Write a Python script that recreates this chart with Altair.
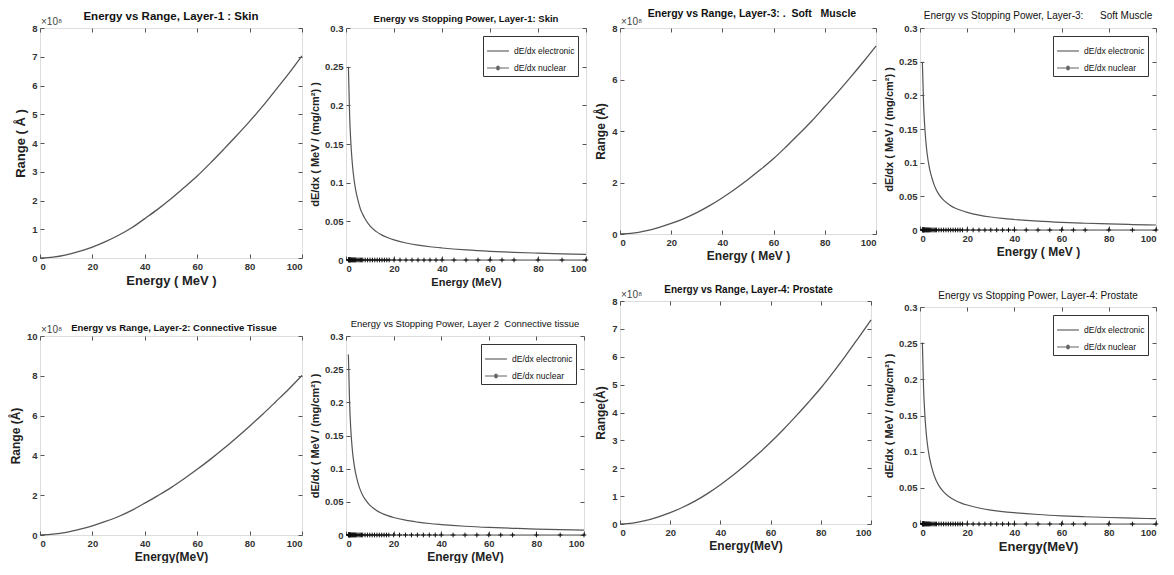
import altair as alt
import pandas as pd

# ---------------- data ----------------
E_RANGE = [0, 5, 10, 15, 20, 25, 30, 35, 40, 45, 50, 55, 60, 65, 70, 75, 80, 85, 90, 95, 100]
R_SKIN = [0, 0.03e8, 0.11e8, 0.23e8, 0.38e8, 0.57e8, 0.79e8, 1.05e8, 1.37e8, 1.70e8, 2.06e8,
          2.45e8, 2.85e8, 3.30e8, 3.77e8, 4.25e8, 4.75e8, 5.28e8, 5.85e8, 6.42e8, 7.03e8]
R_CONN = [0, 0.04e8, 0.13e8, 0.28e8, 0.46e8, 0.68e8, 0.93e8, 1.24e8, 1.60e8, 1.98e8, 2.38e8,
          2.83e8, 3.30e8, 3.80e8, 4.33e8, 4.89e8, 5.47e8, 6.07e8, 6.70e8, 7.34e8, 8.02e8]
R_MUSC = [0, 0.03e8, 0.12e8, 0.25e8, 0.41e8, 0.60e8, 0.83e8, 1.10e8, 1.41e8, 1.75e8, 2.12e8,
          2.51e8, 2.93e8, 3.40e8, 3.89e8, 4.40e8, 4.95e8, 5.50e8, 6.08e8, 6.68e8, 7.30e8]
R_PROS = [0, 0.03e8, 0.12e8, 0.25e8, 0.41e8, 0.60e8, 0.83e8, 1.10e8, 1.41e8, 1.75e8, 2.12e8,
          2.51e8, 2.93e8, 3.38e8, 3.86e8, 4.36e8, 4.88e8, 5.45e8, 6.05e8, 6.68e8, 7.32e8]

E_EL = [1, 1.5, 2, 2.5, 3, 4, 5, 6, 7, 8, 10, 12.5, 15, 17.5, 20, 25, 30, 35, 40, 50, 60, 70, 80, 90, 100]
S_SKIN = [0.250, 0.188, 0.153, 0.130, 0.113, 0.091, 0.077, 0.066, 0.059, 0.053, 0.0440, 0.0370, 0.0322,
          0.0287, 0.0260, 0.0220, 0.0192, 0.0171, 0.0155, 0.0130, 0.0112, 0.0099, 0.0089, 0.0080, 0.0072]
S_CONN = [0.272, 0.200, 0.160, 0.135, 0.117, 0.094, 0.079, 0.068, 0.060, 0.054, 0.0450, 0.0378, 0.0328,
          0.0292, 0.0264, 0.0223, 0.0195, 0.0173, 0.0157, 0.0132, 0.0114, 0.0101, 0.0090, 0.0082, 0.0074]
S_MUSC = [0.250, 0.189, 0.154, 0.131, 0.114, 0.092, 0.078, 0.067, 0.059, 0.053, 0.0443, 0.0373, 0.0324,
          0.0289, 0.0262, 0.0221, 0.0193, 0.0172, 0.0156, 0.0131, 0.0113, 0.0100, 0.0090, 0.0081, 0.0074]
S_PROS = [0.251, 0.189, 0.154, 0.131, 0.114, 0.092, 0.078, 0.067, 0.059, 0.053, 0.0443, 0.0373, 0.0324,
          0.0289, 0.0262, 0.0221, 0.0193, 0.0172, 0.0156, 0.0131, 0.0113, 0.0100, 0.0090, 0.0081, 0.0073]

E_NUC = [1.0, 1.1, 1.2, 1.3, 1.4, 1.5, 1.6, 1.7, 1.8, 2.0, 2.25, 2.5, 2.75, 3.0, 3.25, 3.5, 3.75, 4.0,
         4.5, 5.0, 5.5, 6.0, 6.5, 7.0, 8.0, 9.0, 10, 11, 12, 13, 14, 15, 16, 17, 18, 20, 22.5, 25,
         27.5, 30, 32.5, 35, 37.5, 40, 45, 50, 55, 60, 65, 70, 80, 90, 100]
S_NUC = [0.00019, 0.00018, 0.00017, 0.00016, 0.00015, 0.00014, 0.00013, 0.00013, 0.00012, 0.00011,
         0.00010, 0.00009, 0.00008, 0.00008, 0.00007, 0.00007, 0.00006, 0.00006, 0.00005, 0.00005,
         0.00004, 0.00004, 0.00004, 0.00003, 0.00003, 0.00003, 0.00002, 0.00002, 0.00002, 0.00002,
         0.00002, 0.00002, 0.00002, 0.00002, 0.00002, 0.00001, 0.00001, 0.00001, 0.00001, 0.00001,
         0.00001, 0.00001, 0.00001, 0.00001, 0.00001, 0.000008, 0.000008, 0.000007, 0.000006,
         0.000006, 0.000005, 0.000004, 0.000003]

X_TICKS = [0, 20, 40, 60, 80, 100]
S_TICKS = [0, 0.05, 0.1, 0.15, 0.2, 0.25, 0.3]
SERIES = ["dE/dx electronic", "dE/dx nuclear"]

FONT = "Liberation Sans, Arial"
INK = "#333333"
LINE = "#555555"
NB = "\u00a0"
PLUS = "M0,-1L0,1M-1,0L1,0"
LEG_NUC = "M-1,0L1,0M0,-0.22L0,0.22M-0.14,-0.14L0.14,0.14M-0.14,0.14L0.14,-0.14"


def in_axis(orient, values, title=None, labels=True, title_size=12, label_expr=None, fmt=None):
    kw = dict(orient=orient, values=values, domain=False, grid=False, tickSize=4, offset=-4,
              tickColor="#555555", tickWidth=1, labels=labels, labelFont=FONT, labelFontSize=9.5,
              labelColor=INK, labelFontWeight="bold", labelPadding=3)
    if title is not None:
        kw.update(title=title, titleFont=FONT, titleFontSize=title_size, titleFontWeight="bold",
                  titleColor="#222222", titlePadding=4)
    else:
        kw.update(title=None)
    if label_expr is not None:
        kw.update(labelExpr=label_expr)
    if fmt is not None:
        kw.update(format=fmt)
    return alt.Axis(**kw)


def panel_title(text, size, weight, offset, dx=0):
    return alt.TitleParams(text=text, font=FONT, fontSize=size, fontWeight=weight, color="#111111",
                           offset=offset, frame="group", anchor="middle", dx=dx)


def range_panel(title, tsize, tweight, toff, R, ymax, ystep, ytitle, xtitle, atsize, w, h, tdx=0):
    df = pd.DataFrame({"E": E_RANGE, "R": R})
    yt = [i * ystep * 1e8 for i in range(int(round(ymax / ystep)) + 1)]
    xs = alt.Scale(domain=[0, 100], nice=False)
    ys = alt.Scale(domain=[0, ymax * 1e8], nice=False)
    line = alt.Chart(df).mark_line(color=LINE, strokeWidth=1.3, interpolate="monotone").encode(
        x=alt.X("E:Q", scale=xs, axis=in_axis("bottom", X_TICKS, xtitle, title_size=atsize)),
        y=alt.Y("R:Q", scale=ys, axis=in_axis("left", yt, ytitle, title_size=atsize,
                                               label_expr="format(datum.value / 1e8, 'd')")),
    )
    frame = alt.Chart(df).mark_line(opacity=0).encode(
        x=alt.X("E:Q", scale=xs, axis=in_axis("top", X_TICKS, labels=False)),
        y=alt.Y("R:Q", scale=ys, axis=in_axis("right", yt, labels=False)),
    )
    exp_df = pd.DataFrame({"E": [0], "R": [ymax * 1e8], "t": ["×10⁸"]})
    exp = alt.Chart(exp_df).mark_text(align="left", baseline="bottom", dx=1, dy=-1, font=FONT,
                                      fontSize=10, color="#444444").encode(
        x=alt.X("E:Q", scale=xs, axis=None), y=alt.Y("R:Q", scale=ys, axis=None), text="t:N")
    return alt.layer(line, frame, exp).resolve_axis(x="independent", y="independent").properties(
        width=w, height=h, title=panel_title(title, tsize, tweight, toff, tdx))


def stop_panel(title, tsize, tweight, toff, S, xtitle, atsize, w, h):
    el = pd.DataFrame({"E": E_EL, "S": S, "series": SERIES[0]})
    nu = pd.DataFrame({"E": E_NUC, "S": S_NUC, "series": SERIES[1]})
    df = pd.concat([el, nu])
    xs = alt.Scale(domain=[0, 100], nice=False)
    ys = alt.Scale(domain=[0, 0.3], nice=False)
    legend = alt.Legend(
        title=None, orient="top-right", offset=8, symbolSize=480, symbolStrokeWidth=1.2,
        symbolStrokeColor="#222222", symbolFillColor="transparent",
        labelFont=FONT, labelFontSize=8.5, labelColor="#111111",
        strokeColor="#333333", fillColor="white", padding=3, rowPadding=0, labelOffset=4,
    )
    line = alt.Chart(df).mark_line(strokeWidth=1.2, color=LINE, interpolate="monotone").encode(
        x=alt.X("E:Q", scale=xs, axis=in_axis("bottom", X_TICKS, xtitle, title_size=atsize)),
        y=alt.Y("S:Q", scale=ys, axis=in_axis("left", S_TICKS, "dE/dx ( MeV / (mg/cm²) )",
                                               title_size=11, fmt="~g")),
        detail="series:N",
    )
    marks = alt.Chart(nu).mark_point(shape=PLUS, size=22, filled=False, color="#111111",
                                     strokeWidth=1, opacity=1).encode(
        x=alt.X("E:Q", scale=xs, axis=in_axis("top", X_TICKS, labels=False)),
        y=alt.Y("S:Q", scale=ys, axis=in_axis("right", S_TICKS, labels=False)),
    )
    leg = alt.Chart(df).transform_filter("false").mark_point(filled=False, color="#222222").encode(
        x=alt.X("E:Q", scale=xs, axis=None),
        y=alt.Y("S:Q", scale=ys, axis=None),
        shape=alt.Shape("series:N", scale=alt.Scale(domain=SERIES, range=["stroke", LEG_NUC]),
                        legend=legend),
    )
    return alt.layer(line, marks, leg).resolve_axis(x="independent", y="independent").properties(
        width=w, height=h, title=panel_title(title, tsize, tweight, toff))


p1 = range_panel("Energy vs Range, Layer-1 : Skin", 11.5, "bold", -5.75, R_SKIN, 8, 1,
                 "Range ( Å )", "Energy ( MeV )", 13, 262, 230)
p5 = range_panel("Energy vs Range, Layer-2: Connective Tissue", 9.5, 600, -7.75, R_CONN, 10, 2,
                 "Range (Å)", "Energy(MeV)", 12, 262, 199, tdx=3)
p3 = range_panel("Energy vs Range, Layer-3: ." + NB * 2 + "Soft" + NB * 3 + "Muscle", 10.5, "bold", -2.25,
                 R_MUSC, 8, 2, "Range (Å)", "Energy ( MeV )", 12, 256, 206, tdx=4)
p7 = range_panel("Energy vs Range, Layer-4: Prostate", 10, 600, -5, R_PROS, 8, 1,
                 "Range(Å)", "Energy(MeV)", 12, 251, 223, tdx=3)

p2 = stop_panel("Energy vs Stopping Power, Layer-1: Skin", 9.5, "bold", -0.75, S_SKIN,
                "Energy (MeV)", 11, 240, 232)
p6 = stop_panel("Energy vs Stopping Power, Layer 2" + NB * 2 + "Connective tissue", 9.5, "normal", 2.25,
                S_CONN, "Energy (MeV)", 12, 238, 199)
p4 = stop_panel("Energy vs Stopping Power, Layer-3:" + NB * 6 + "Soft Muscle", 10, "normal", 2,
                S_MUSC, "Energy ( MeV )", 12, 236, 202)
p8 = stop_panel("Energy vs Stopping Power, Layer-4: Prostate", 10, "normal", 1, S_PROS,
                "Energy(MeV)", 13, 236, 217)

col1 = alt.vconcat(p1, p5, spacing=78, bounds="flush").resolve_scale(shape="independent")
col2 = alt.vconcat(p2, p6, spacing=76, bounds="flush").resolve_scale(shape="independent")
col3 = alt.vconcat(p3, p7, spacing=67, bounds="flush").resolve_scale(shape="independent")
col4 = alt.vconcat(p4, p8, spacing=77, bounds="flush").resolve_scale(shape="independent")

chart = alt.hconcat(col1, col2, col3, col4, spacing=3).resolve_scale(shape="independent").properties(
    padding=0).configure_view(stroke="#444444", strokeWidth=1).configure(background="white")

chart.save("out.html", embed_options={"renderer": "svg", "actions": False})
